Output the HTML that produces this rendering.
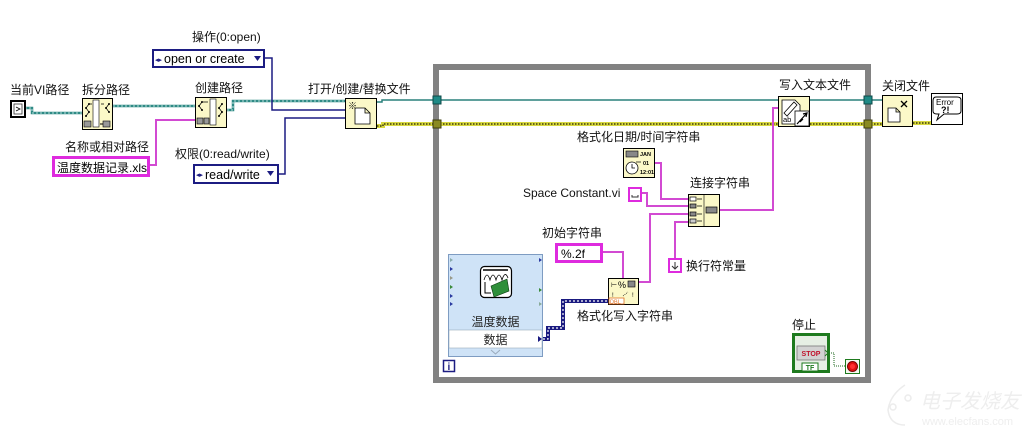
<!DOCTYPE html>
<html><head><meta charset="utf-8"><style>
html,body{margin:0;padding:0;background:#fff;}
svg{display:block;}
</style></head><body>
<svg width="1027" height="434" viewBox="0 0 1027 434" xmlns="http://www.w3.org/2000/svg" font-family="'Liberation Sans','Noto Sans CJK SC',sans-serif">
<rect width="1027" height="434" fill="#fff"/>

<!-- While loop frame -->
<rect x="436" y="67" width="432" height="313" fill="none" stroke="#828282" stroke-width="6"/>

<!-- ===== WIRES ===== -->
<g fill="none" stroke-linejoin="miter">
  <g stroke="#2f8a85" stroke-width="2.5">
    <polyline points="25,108 32,108 32,113 82,113"/>
    <polyline points="113,106 195,106"/>
    <polyline points="227,110 233,110 233,101 345,101"/>
  </g>
  <g stroke="#e8fbf8" stroke-width="0.8" stroke-dasharray="2 2">
    <polyline points="25,108 32,108 32,113 82,113"/>
    <polyline points="113,106 195,106"/>
    <polyline points="227,110 233,110 233,101 345,101"/>
  </g>
  <polyline points="150,165 156,165 156,120 195,120" stroke="#d24ad2" stroke-width="2"/>
  <g stroke="#1c1c82" stroke-width="1.5">
    <polyline points="265,58 272,58 272,110 345,110"/>
    <polyline points="278,174 285,174 285,118 345,118"/>
  </g>
  <g stroke="#2a807c" stroke-width="1.5">
    <polyline points="377,102 382,102 382,100 434,100"/>
    <polyline points="440,100 778,100"/>
    <polyline points="810,100 866,100"/>
    <polyline points="871,100 882,100"/>
  </g>
  <g stroke="#d8d840" stroke-width="4">
    <polyline points="377,126 383,126 383,124 434,124"/>
    <polyline points="440,124 778,124"/>
    <polyline points="810,124 866,124"/>
    <polyline points="871,124 882,124"/>
    <polyline points="913,123 931,123"/>
  </g>
  <g stroke="#3a3a10" stroke-width="1.5" stroke-dasharray="1.5 1.5">
    <polyline points="377,126 383,126 383,124 434,124"/>
    <polyline points="440,124 778,124"/>
    <polyline points="810,124 866,124"/>
    <polyline points="871,124 882,124"/>
    <polyline points="913,123 931,123"/>
  </g>
  <g stroke="#d24ad2" stroke-width="2">
    <polyline points="720,210 773,210 773,108 778,108"/>
    <polyline points="655,163 661,163 661,199 688,199"/>
    <polyline points="642,193 647,193 647,206 688,206"/>
    <polyline points="639,282 650,282 650,214 688,214"/>
    <polyline points="675,258 675,222 688,222"/>
    <polyline points="603,252 623,252 623,278"/>
  </g>
  <polyline points="543,339 548,339 548,328 563,328 563,301 608,301" stroke="#1a1a80" stroke-width="4"/>
  <polyline points="543,339 548,339 548,328 563,328 563,301 608,301" stroke="#ffffff" stroke-width="1.2" stroke-dasharray="2 2"/>
  <polyline points="827,353 834,353 834,366 845,366" stroke="#1f6a1f" stroke-width="1" stroke-dasharray="1 1"/>
</g>

<!-- tunnels -->
<rect x="433" y="96" width="8" height="8" fill="#1f8a86" stroke="#0e4a48" stroke-width="1"/>
<rect x="433" y="120" width="8" height="8" fill="#8a8a22" stroke="#3e3e0c" stroke-width="1"/>
<rect x="864" y="96" width="8" height="8" fill="#1f8a86" stroke="#0e4a48" stroke-width="1"/>
<rect x="864" y="120" width="8" height="8" fill="#8a8a22" stroke="#3e3e0c" stroke-width="1"/>

<!-- ===== LABELS ===== -->
<g font-size="12" fill="#111">
  <text x="10" y="94">当前VI路径</text>
  <text x="82" y="94">拆分路径</text>
  <text x="195" y="92">创建路径</text>
  <text x="192" y="41">操作(0:open)</text>
  <text x="65" y="151">名称或相对路径</text>
  <text x="175" y="158">权限(0:read/write)</text>
  <text x="308" y="93">打开/创建/替换文件</text>
  <text x="779" y="89">写入文本文件</text>
  <text x="882" y="90">关闭文件</text>
  <text x="577" y="141">格式化日期/时间字符串</text>
  <text x="690" y="187">连接字符串</text>
  <text x="523" y="197">Space Constant.vi</text>
  <text x="542" y="237">初始字符串</text>
  <text x="686" y="270">换行符常量</text>
  <text x="577" y="320">格式化写入字符串</text>
  <text x="792" y="329">停止</text>
</g>

<!-- ===== CONSTANTS ===== -->
<rect x="153" y="50" width="111" height="17" fill="#fff" stroke="#1c1c82" stroke-width="2"/>
<text x="155" y="62" font-size="7" fill="#1c1c82">◂▸</text>
<text x="164" y="63" font-size="12.5" fill="#000">open or create</text>
<path d="M254,56 L261,56 L257.5,61 Z" fill="#1c1c82"/>
<rect x="194" y="165" width="84" height="18" fill="#fff" stroke="#1c1c82" stroke-width="2"/>
<text x="196" y="177" font-size="7" fill="#1c1c82">◂▸</text>
<text x="205" y="179" font-size="12.5" fill="#000">read/write</text>
<path d="M267,171 L274,171 L270.5,176 Z" fill="#1c1c82"/>
<rect x="53.5" y="157.5" width="95" height="18" fill="#fff" stroke="#de2bde" stroke-width="3"/>
<text x="57" y="172" font-size="12" fill="#000">温度数据记录.xls</text>
<rect x="556.5" y="244.5" width="45" height="17" fill="#fff" stroke="#de2bde" stroke-width="3"/>
<text x="561" y="258" font-size="12" fill="#000">%.2f</text>
<rect x="629" y="188" width="12" height="13" fill="#fff" stroke="#de2bde" stroke-width="2"/>
<path d="M632,195 L632,197 L638,197 L638,195" fill="none" stroke="#333" stroke-width="1"/>
<rect x="669" y="259" width="12" height="13" fill="#fff" stroke="#de2bde" stroke-width="2"/>
<path d="M675,262 L675,269 M672,266 L675,269 L678,266" fill="none" stroke="#333" stroke-width="1"/>

<!-- ===== NODES ===== -->
<rect x="11" y="101" width="14" height="16" fill="#fff" stroke="#000" stroke-width="2"/>
<rect x="14" y="104" width="8" height="10" fill="#fff" stroke="#333" stroke-width="0.8"/>
<path d="M16,107 L20,109 L16,111" fill="none" stroke="#000" stroke-width="0.8"/>

<rect x="82.5" y="98.5" width="30" height="31" fill="#fbf8c8" stroke="#000"/>
<rect x="93" y="100" width="6" height="27" fill="#fff" stroke="#000" stroke-width="0.6"/>
<g fill="#000"><circle cx="86" cy="108" r="1"/><circle cx="89" cy="104" r="1"/><circle cx="89" cy="112" r="1"/><circle cx="86" cy="116" r="1"/>
<circle cx="106" cy="108" r="1"/><circle cx="109" cy="104" r="1"/><circle cx="109" cy="112" r="1"/></g>
<path d="M86,108 L89,104 M86,108 L89,112 L86,116 M89,104 L92,104 M101,104 L104,104 M106,108 L109,104 M106,108 L109,112" stroke="#000" stroke-width="0.7" fill="none"/>
<rect x="84" y="121" width="7" height="6" fill="#999" stroke="#000" stroke-width="0.6"/>
<rect x="103" y="121" width="7" height="6" fill="#999" stroke="#000" stroke-width="0.6"/>
<path d="M100,124 L103,124" stroke="#000"/>

<rect x="195.5" y="97.5" width="31" height="30" fill="#fbf8c8" stroke="#000"/>
<rect x="210" y="99" width="6" height="26" fill="#fff" stroke="#000" stroke-width="0.6"/>
<g fill="#000"><circle cx="199" cy="106" r="1"/><circle cx="202" cy="102" r="1"/><circle cx="202" cy="110" r="1"/>
<circle cx="219" cy="108" r="1"/><circle cx="222" cy="104" r="1"/><circle cx="222" cy="112" r="1"/><circle cx="219" cy="116" r="1"/></g>
<path d="M199,106 L202,102 M199,106 L202,110 M203,102 L208,102 M219,108 L222,104 M219,108 L222,112 L219,116" stroke="#000" stroke-width="0.7" fill="none"/>
<rect x="197" y="118" width="6" height="6" fill="#999" stroke="#000" stroke-width="0.6"/>
<rect x="204" y="118" width="5" height="6" fill="#999" stroke="#000" stroke-width="0.6"/>

<rect x="345.5" y="98.5" width="31" height="30" fill="#fbf8c8" stroke="#000"/>
<path d="M355,108 L365,108 L370,113 L370,124 L355,124 Z M365,108 L365,113 L370,113" fill="#fff" stroke="#000" stroke-width="0.8"/>
<text x="348" y="109" font-size="9" fill="#000">※</text>

<rect x="778.5" y="96.5" width="31" height="30" fill="#fbf8c8" stroke="#000"/>
<path d="M782,100 L795,100 L800,105 L800,124 L782,124 Z" fill="#fff" stroke="#000" stroke-width="0.8"/>
<path d="M784,113 L794,102 L797,105 L787,116 Z" fill="#fff" stroke="#000" stroke-width="0.8"/>
<text x="783" y="122" font-size="7.5" fill="#000">ab</text>
<rect x="795" y="111" width="14" height="15" fill="#fff" stroke="#000" stroke-width="0.8"/>
<path d="M797,124 L807,113 M803,114 L807,113 L806,117 M800,122 L803,119" stroke="#000" stroke-width="1.2" fill="none"/>

<rect x="882.5" y="95.5" width="30" height="31" fill="#fbf8c8" stroke="#000"/>
<path d="M888,108 L896,108 L900,112 L900,122 L888,122 Z M896,108 L896,112 L900,112" fill="#fff" stroke="#000" stroke-width="0.8"/>
<path d="M901,101 L907,107 M907,101 L901,107" stroke="#000" stroke-width="1.3"/>

<rect x="931.5" y="93.5" width="31" height="31" fill="#fff" stroke="#000"/>
<path d="M936,97 Q933,97 933,101 L933,111 Q933,114 937,114 L939,114 L937,120 L944,114 L957,114 Q961,114 961,111 L961,100 Q961,97 957,97 Z" fill="#fff" stroke="#000" stroke-width="1"/>
<text x="936" y="105" font-size="8" fill="#000">Error</text>
<text x="941" y="113" font-size="9" font-weight="bold" fill="#000">?!</text>

<rect x="623.5" y="148.5" width="31" height="29" fill="#fbf8c8" stroke="#000"/>
<rect x="626" y="151" width="12" height="6" fill="#888" stroke="#000" stroke-width="0.6"/>
<circle cx="632" cy="168" r="6" fill="#fff" stroke="#000" stroke-width="0.8"/>
<path d="M632,164 L632,168 L635,168" stroke="#000" stroke-width="0.8" fill="none"/>
<text x="640" y="156" font-size="5.5" font-weight="bold" fill="#000">JAN</text>
<text x="643" y="165" font-size="5.5" font-weight="bold" fill="#000">01</text>
<text x="640" y="174" font-size="5.5" font-weight="bold" fill="#000">12:01</text>
<path d="M636,162 L641,162" stroke="#000" stroke-width="0.7"/>

<rect x="688.5" y="194.5" width="31" height="32" fill="#fbf8c8" stroke="#000"/>
<path d="M704,195 L704,226" stroke="#000" stroke-width="0.6"/>
<g stroke="#000" stroke-width="0.7">
  <rect x="690" y="197" width="6" height="4" fill="#fff"/>
  <rect x="690" y="204" width="6" height="4" fill="#888"/>
  <rect x="690" y="212" width="6" height="4" fill="#888"/>
  <rect x="690" y="219" width="6" height="4" fill="#ccc"/>
  <path d="M697,199 L702,199 M697,206 L702,206 M697,214 L702,214 M697,221 L702,221" fill="none"/>
  <rect x="706" y="207" width="11" height="6" fill="#888"/>
</g>

<rect x="608.5" y="278.5" width="30" height="26" fill="#fbf8c8" stroke="#000"/>
<text x="611" y="287" font-size="7" fill="#000">⊢</text>
<text x="618" y="288" font-size="9" fill="#000">%</text>
<rect x="628" y="281" width="7" height="6" fill="#888" stroke="#000" stroke-width="0.6"/>
<text x="612" y="297" font-size="6" fill="#000">!</text>
<text x="632" y="297" font-size="6" fill="#000">!</text>
<path d="M623,296 L628,292" stroke="#000" stroke-width="0.6" stroke-dasharray="1 1"/>
<rect x="609" y="298" width="15" height="6" fill="#fff" stroke="#e07020" stroke-width="0.8"/>
<text x="610" y="303.5" font-size="5.5" fill="#e07020">DBL</text>

<rect x="448.5" y="254.5" width="94" height="102" fill="#cfe3f7" stroke="#7e9cc2"/>
<rect x="449" y="330" width="93" height="18" fill="#fff" stroke="#9ab" stroke-width="0.6"/>
<g>
  <path d="M450,258 L453,260 L450,262 Z" fill="#8aa"/>
  <path d="M450,267 L453,269 L450,271 Z" fill="#2a3aa0"/>
  <path d="M450,276 L453,278 L450,280 Z" fill="#998"/>
  <path d="M450,285 L453,287 L450,289 Z" fill="#3a8a3a"/>
  <path d="M450,294 L453,296 L450,298 Z" fill="#2a3aa0"/>
  <path d="M450,302 L453,304 L450,306 Z" fill="#2a3aa0"/>
  <path d="M539,258 L542,260 L539,262 Z" fill="#2a3aa0"/>
  <path d="M539,288 L542,290 L539,292 Z" fill="#3a8a3a"/>
  <path d="M539,302 L542,304 L539,306 Z" fill="#8a9"/>
  <path d="M538,336 L542,339 L538,342 Z" fill="#1a1a80"/>
</g>
<rect x="480.5" y="266.5" width="31" height="31" rx="4" fill="#fff" stroke="#000" stroke-width="1.2"/>
<path d="M483,270 L508,270" stroke="#000" stroke-width="1.5"/>
<path d="M484,280 Q487,270 490,280 Q493,270 496,280 Q499,270 502,280 Q505,270 508,278" fill="none" stroke="#000" stroke-width="0.8"/>
<path d="M491,286 L507,279 L509,291 L494,297 Z" fill="#2f8f3a" stroke="#0a3a10" stroke-width="0.6"/>
<path d="M485,282 L485,293 L491,293" fill="none" stroke="#000" stroke-width="1"/>
<text x="495.5" y="326" font-size="12" fill="#222" text-anchor="middle">温度数据</text>
<text x="495.5" y="344" font-size="12" fill="#222" text-anchor="middle">数据</text>
<path d="M491,350 L495.5,354 L500,350" fill="none" stroke="#9ab" stroke-width="1"/>

<rect x="443.5" y="360.5" width="11" height="11" fill="#fff" stroke="#1c1c82" stroke-width="1.5"/>
<text x="447.5" y="370" font-size="10" font-weight="bold" fill="#1c1c82">i</text>

<rect x="793.5" y="334.5" width="35" height="37" fill="#e6efe4" stroke="#1e7a1e" stroke-width="3"/>
<rect x="797" y="346" width="28" height="14" fill="#d2d2d2" stroke="#777" stroke-width="0.8"/>
<text x="811" y="356" font-size="7" font-weight="bold" fill="#c0102a" text-anchor="middle">STOP</text>
<rect x="802" y="363" width="16" height="8" fill="#fff" stroke="#1e7a1e" stroke-width="1"/>
<text x="810" y="370" font-size="7" font-weight="bold" fill="#1e7a1e" text-anchor="middle">TF</text>
<path d="M825,350 L828,353 L825,356" fill="none" stroke="#1e7a1e" stroke-width="1"/>

<rect x="845.5" y="359.5" width="14" height="14" fill="#f4f8f0" stroke="#1e7a1e" stroke-width="1"/>
<circle cx="852.5" cy="366.5" r="5" fill="#e01010" stroke="#700" stroke-width="1"/>
<circle cx="852.5" cy="366.5" r="2.5" fill="#ff3030"/>

<!-- watermark -->
<g fill="none" stroke="#ececec" stroke-width="1.5">
  <path d="M905,385 Q890,395 888,410 Q890,425 905,425"/>
  <circle cx="893" cy="407" r="3"/>
  <circle cx="908" cy="398" r="3"/>
</g>
<text x="920" y="408" font-size="20" fill="#eeeeee" font-style="italic">电子发烧友</text>
<text x="922" y="425" font-size="11" fill="#eeeeee">www.elecfans.com</text>
</svg>
</body></html>
